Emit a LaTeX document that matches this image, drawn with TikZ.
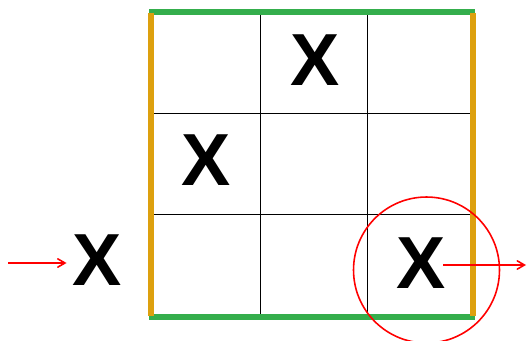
\documentclass[tikz,border=0pt]{standalone}
\usepackage{fontspec}
\setmainfont{Liberation Sans}
\usetikzlibrary{arrows,positioning,calc}
\definecolor{boardgreen}{RGB}{52,174,76}
\definecolor{boardorange}{RGB}{221,160,14}
\tikzset{
  mark x/.style={inner sep=0pt,font=\bfseries\fontsize{42}{42}\selectfont},
  hint/.style={color=red,line width=0.9pt,->,>=angle 60},
}

\begin{document}
\begin{tikzpicture}[x=0.02cm,y=-0.02cm]
\useasboundingbox (0,0) rectangle (527,341);
% board
\draw[black,line width=0.55pt] (260,12)--(260,317) (367,12)--(367,317);
\draw[black,line width=0.55pt] (151,113)--(473,113) (151,214)--(473,214);
\draw[color=boardgreen,line width=3pt] (149,12)--(475,12);
\draw[color=boardgreen,line width=3pt] (149,317)--(475,317);
\draw[color=boardorange,line width=3.4pt] (151,13)--(151,316);
\draw[color=boardorange,line width=3.4pt] (473,13)--(473,316);
% marks
\node[mark x] (top) at (315,60) {X};
\node[mark x] (mid) at (206,160) {X};
\node[mark x] (new) at (97.5,260) {X};
\node[mark x] (out) at (421.5,263) {X};
\node[draw=red,line width=0.9pt,circle,minimum size=2.92cm] (ring) at (426.5,270) {};
% arrows
\coordinate (in) at (8,263);
\coordinate (away) at (526,265);
\draw[hint] (in) -- ($(in -| new.west)+(-6,0)$);
\draw[hint] ($(away -| out.east)+(-3,0)$) -- (away);
\end{tikzpicture}
\end{document}
